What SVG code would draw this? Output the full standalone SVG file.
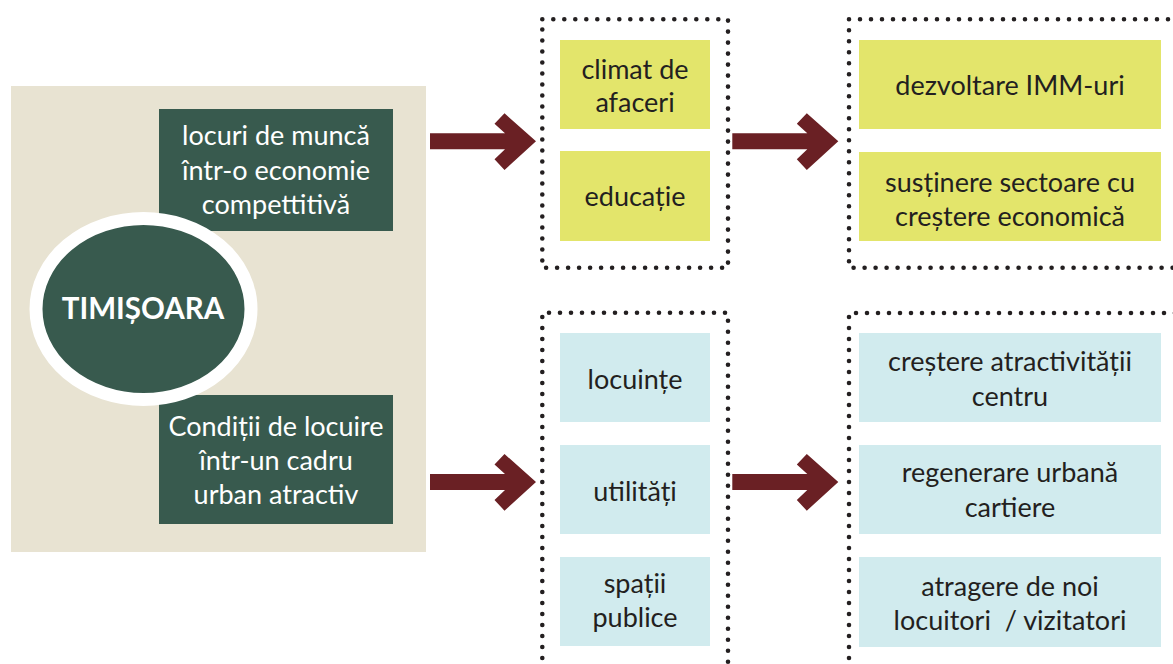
<svg xmlns="http://www.w3.org/2000/svg" width="1173" height="664" viewBox="0 0 1173 664">
<style>
.dots{fill:none;stroke:#231F20;stroke-width:4.6;stroke-linecap:round;stroke-dasharray:0 11}
.dk{fill:#385A4E}
.yl{fill:#E3E56B}
.bl{fill:#D1EBEE}
.arrow{fill:#6A2024}
text{font-family:Lato,"Liberation Sans",sans-serif;font-size:27px;text-anchor:middle}
.w{fill:#FFFFFF}
.b{fill:#231F20}
.big{font-weight:bold;font-size:29.5px}
</style>
<rect x="11" y="86" width="415" height="466" fill="#E8E3D2"/>
<g id="node-jobs">
<rect class="dk" x="159" y="109" width="234" height="122"/>
<text class="w" x="276" y="145">locuri de muncă</text>
<text class="w" x="276" y="180">într-o economie</text>
<text class="w" x="276" y="214">compettitivă</text>
</g>
<g id="node-living">
<rect class="dk" x="159" y="395" width="234" height="129"/>
<text class="w" x="276" y="436">Condiții de locuire</text>
<text class="w" x="276" y="470">într-un cadru</text>
<text class="w" x="276" y="504">urban atractiv</text>
</g>
<g id="node-timisoara">
<ellipse cx="143.5" cy="309" rx="107.5" ry="90.5" fill="#385A4E" stroke="#FFFFFF" stroke-width="13"/>
<text class="w big" x="143" y="319">TIMIȘOARA</text>
</g>
<g id="group-top-mid">
<path class="dots" d="M542.3 19.3H728V267.7H542.3Z"/>
<g id="node-climat">
<rect class="yl" x="560" y="40" width="150" height="89"/>
<text class="b" x="635" y="79">climat de</text>
<text class="b" x="635" y="112">afaceri</text>
</g>
<g id="node-educatie">
<rect class="yl" x="560" y="151" width="150" height="90"/>
<text class="b" x="635" y="206">educație</text>
</g>
</g>
<g id="group-top-right">
<path class="dots" d="M1190 19.3H849V267.7H1190"/>
<g id="node-imm">
<rect class="yl" x="859" y="40" width="302" height="89"/>
<text class="b" x="1010" y="95">dezvoltare IMM-uri</text>
</g>
<g id="node-sectoare">
<rect class="yl" x="859" y="152" width="302" height="89"/>
<text class="b" x="1010" y="192">susținere sectoare cu</text>
<text class="b" x="1010" y="226">creștere economică</text>
</g>
</g>
<g id="group-bottom-mid">
<path class="dots" d="M542.3 680V312.7H728V680"/>
<g id="node-locuinte">
<rect class="bl" x="560" y="333" width="150" height="89"/>
<text class="b" x="635" y="389">locuințe</text>
</g>
<g id="node-utilitati">
<rect class="bl" x="560" y="445" width="150" height="89"/>
<text class="b" x="635" y="501">utilități</text>
</g>
<g id="node-spatii">
<rect class="bl" x="560" y="557" width="150" height="89"/>
<text class="b" x="635" y="593">spații</text>
<text class="b" x="635" y="627">publice</text>
</g>
</g>
<g id="group-bottom-right">
<path class="dots" d="M849 680V313H1190"/>
<g id="node-centru">
<rect class="bl" x="859" y="333" width="302" height="89"/>
<text class="b" x="1010" y="371">creștere atractivității</text>
<text class="b" x="1010" y="406">centru</text>
</g>
<g id="node-regenerare">
<rect class="bl" x="859" y="445" width="302" height="89"/>
<text class="b" x="1010" y="482">regenerare urbană</text>
<text class="b" x="1010" y="517">cartiere</text>
</g>
<g id="node-atragere">
<rect class="bl" x="859" y="557" width="302" height="90"/>
<text class="b" x="1010" y="596">atragere de noi</text>
<text class="b" x="1010" y="630" xml:space="preserve">locuitori  / vizitatori</text>
</g>
</g>
<defs>
<polygon id="arr" points="0,-8 75,-8 64.5,-17.5 74.5,-28 106,0 74.5,28.7 64.5,18 75,8 0,8"/>
</defs>
<g id="connectors">
<use href="#arr" class="arrow" transform="translate(430,141.3)"/>
<use href="#arr" class="arrow" transform="translate(732.3,141.3)"/>
<use href="#arr" class="arrow" transform="translate(430,482)"/>
<use href="#arr" class="arrow" transform="translate(732.3,482)"/>
</g>
</svg>
